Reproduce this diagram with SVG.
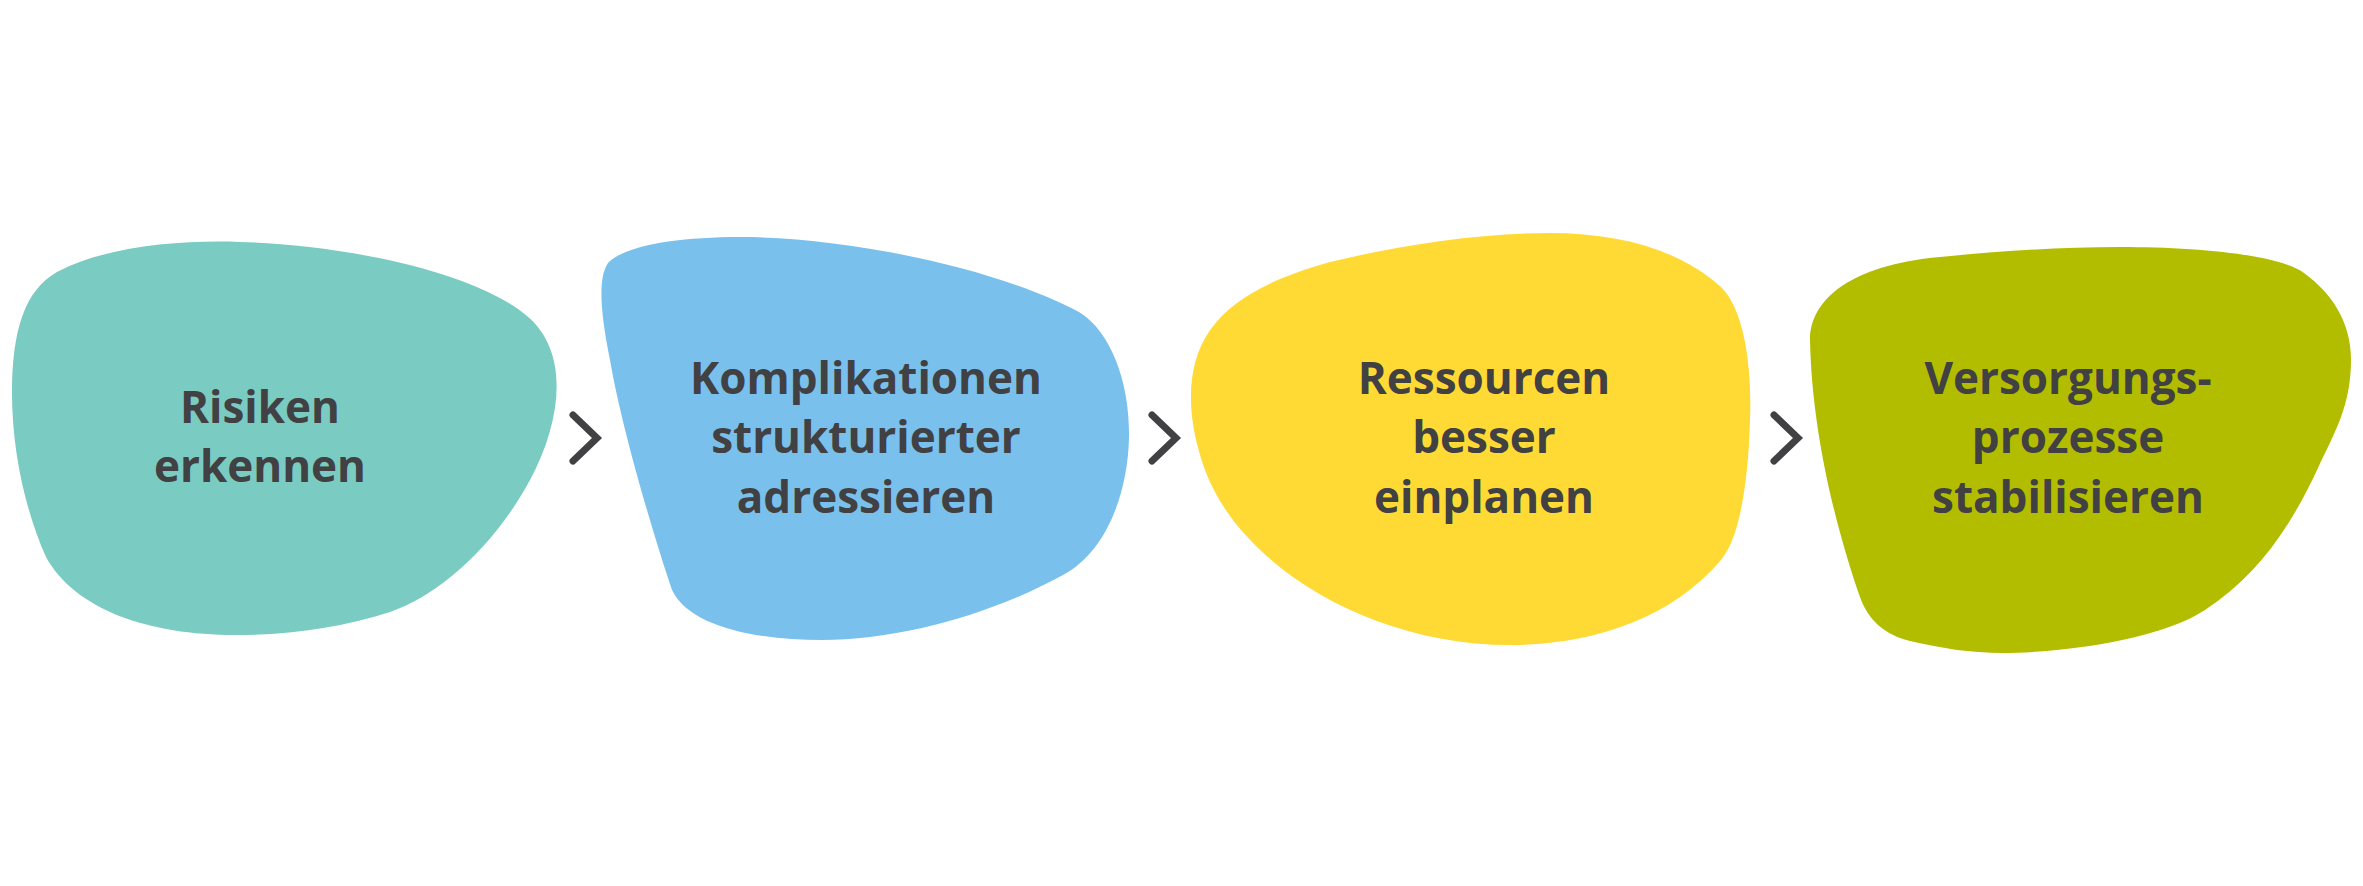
<svg xmlns="http://www.w3.org/2000/svg" width="2363" height="886" viewBox="0 0 2363 886">
<style>
.lbl{font-family:"Open Sans","Noto Sans","DejaVu Sans",sans-serif;font-weight:700;font-size:44px;fill:#414042;text-anchor:middle}
.chev{fill:none;stroke:#414042;stroke-width:7;stroke-linecap:round;stroke-linejoin:miter;stroke-miterlimit:10}
</style>
<rect width="2363" height="886" fill="#ffffff"/>
<g id="node1">
<path fill="#7ACBC1" d="M 57,272 C 110,244 190,240 240,242 C 330,244 470,268 527,316 C 570,352 562,420 530,480 C 495,545 440,595 390,612 C 340,628 290,635 235,635 C 150,635 75,610 46,557 C 25,510 12,450 12,393 C 12,330 25,290 57,272 Z"/>
<text class="lbl" x="260" y="423">Risiken</text>
<text class="lbl" x="260" y="482">erkennen</text>
</g>
<g id="node2">
<path fill="#79C1EC" d="M 608,263 C 625,245 680,237 740,237 C 840,237 990,265 1079,312 C 1112,332 1130,385 1129,437 C 1128,495 1105,553 1063,575 C 990,615 900,640 822,640 C 760,640 690,628 672,590 C 655,540 622,430 610,360 C 600,310 598,278 608,263 Z"/>
<text class="lbl" x="866" y="394">Komplikationen</text>
<text class="lbl" x="866" y="453">strukturierter</text>
<text class="lbl" x="866" y="513">adressieren</text>
</g>
<g id="node3">
<path fill="#FFDA35" d="M 1191,400 C 1190,330 1230,290 1330,262 C 1400,245 1480,233 1550,233 C 1620,233 1680,250 1721,287 C 1745,310 1752,370 1750,420 C 1748,490 1738,540 1721,560 C 1670,620 1590,645 1510,645 C 1370,645 1240,565 1205,470 C 1196,445 1191,420 1191,400 Z"/>
<text class="lbl" x="1484" y="394">Ressourcen</text>
<text class="lbl" x="1484" y="453">besser</text>
<text class="lbl" x="1484" y="513">einplanen</text>
</g>
<g id="node4">
<path fill="#B3BD00" d="M 1810,340 C 1810,300 1850,265 1940,257 C 2000,251 2060,247 2120,247 C 2200,247 2280,255 2304,273 C 2330,292 2351,320 2351,360 C 2351,405 2335,432 2318,468 C 2290,528 2258,575 2205,610 C 2160,640 2060,653 2003,653 C 1970,653 1940,648 1910,641 C 1885,635 1868,620 1860,597 C 1840,540 1812,440 1810,340 Z"/>
<text class="lbl" x="2068" y="394">Versorgungs-</text>
<text class="lbl" x="2068" y="453">prozesse</text>
<text class="lbl" x="2068" y="513">stabilisieren</text>
</g>
<g id="connectors">
<path class="chev" d="M 573,415 L 597,438 L 573,461"/>
<path class="chev" d="M 1152,415 L 1176,438 L 1152,461"/>
<path class="chev" d="M 1774,415 L 1798,438 L 1774,461"/>
</g>
</svg>
